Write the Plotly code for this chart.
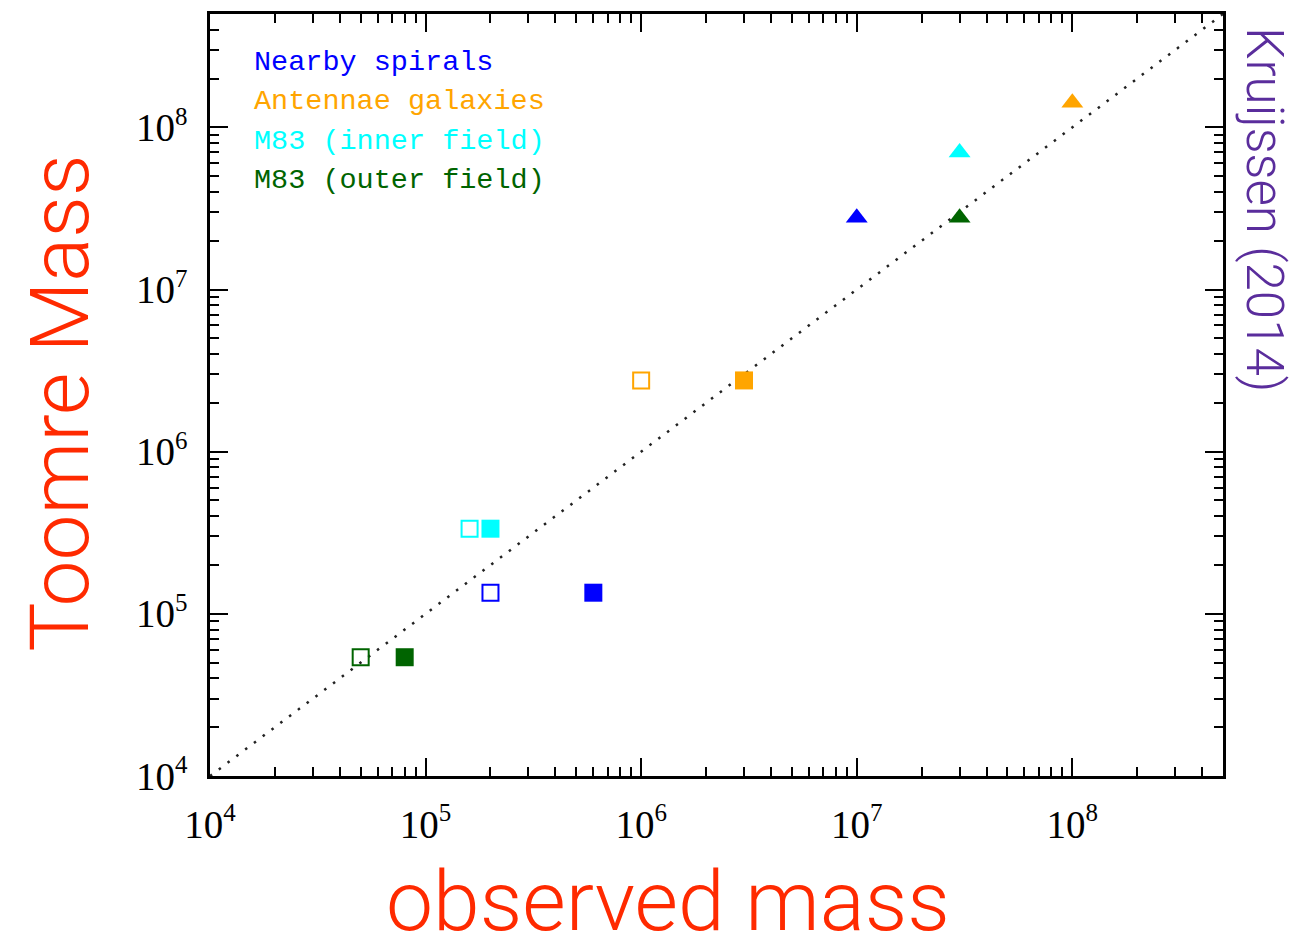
import plotly.graph_objects as go

# Cluster-complex samples
groups = ["Nearby spirals", "Antennae galaxies", "M83 (inner field)", "M83 (outer field)"]
colors = ["#0000FF", "#FFA500", "#00FFFF", "#006400"]

# Squares: Toomre mass vs observed mass (two estimates: open = low, filled = high)
obs_open = [2.0e5, 1.0e6, 1.6e5, 5.0e4]
obs_filled = [6.0e5, 3.0e6, 2.0e5, 8.0e4]
toomre_sq = [1.35e5, 2.75e6, 3.35e5, 5.4e4]

# Triangles: most massive complexes
obs_tri = [1.0e7, 1.0e8, 3.0e7, 3.0e7]
toomre_tri = [2.77e7, 1.42e8, 7.0e7, 2.77e7]

# One-to-one relation
one_to_one = [1.0e4, 5.0e8]

tick_vals = [1e4, 1e5, 1e6, 1e7, 1e8]
tick_exps = ["4", "5", "6", "7", "8"]
tick_text = ["10<sup><span style='font-size:25px'>%s</span></sup>" % e for e in tick_exps]

fig = go.Figure()

fig.add_trace(go.Scatter(
    x=one_to_one, y=one_to_one, mode="lines",
    line=dict(color="#222222", width=2.5, dash="2.5px,8.5px"),
    showlegend=False, hoverinfo="skip",
))

for i, name in enumerate(groups):
    c = colors[i]
    fig.add_trace(go.Scatter(
        x=[obs_open[i]], y=[toomre_sq[i]], mode="markers", name=name,
        marker=dict(symbol="square-open", size=16, color=c, line=dict(color=c, width=2)),
        showlegend=False,
    ))
    fig.add_trace(go.Scatter(
        x=[obs_filled[i]], y=[toomre_sq[i]], mode="markers", name=name,
        marker=dict(symbol="square", size=18, color=c, line=dict(width=0)),
        showlegend=False,
    ))
    fig.add_trace(go.Scatter(
        x=[obs_tri[i]], y=[toomre_tri[i]], mode="markers", name=name,
        marker=dict(symbol="triangle-up", size=19, color=c, line=dict(width=0)),
        showlegend=False,
    ))

axis_common = dict(
    type="log",
    range=[4, 8.69897],
    tickvals=tick_vals,
    ticktext=tick_text,
    ticks="inside",
    ticklen=18,
    tickwidth=2,
    tickcolor="black",
    showline=True,
    linecolor="black",
    linewidth=2.5,
    mirror="allticks",
    showgrid=False,
    zeroline=False,
    tickfont=dict(family="Liberation Serif", size=39, color="black"),
    minor=dict(ticks="inside", ticklen=9, tickwidth=2, tickcolor="black",
               dtick="D1", showgrid=False),
)

fig.update_xaxes(**axis_common, ticklabelstandoff=12)
fig.update_yaxes(**axis_common, ticklabelstandoff=12)

# Legend as coloured text
legend_y = [60, 99, 139, 178]
plot_top, plot_bottom = 11, 776
for i, name in enumerate(groups):
    yp = (plot_bottom - legend_y[i]) / (plot_bottom - plot_top)
    fig.add_annotation(
        text=name, xref="paper", yref="paper", x=(252 - 210) / (1223 - 210), y=yp,
        xanchor="left", yanchor="middle", showarrow=False,
        font=dict(family="Liberation Mono", size=28.5, color=colors[i]),
    )

# Axis titles
fig.add_annotation(
    text="observed mass", xref="paper", yref="paper",
    x=(668 - 210) / (1223 - 210), y=(plot_bottom - 902) / (plot_bottom - plot_top),
    xanchor="center", yanchor="middle", showarrow=False,
    font=dict(family="Roboto", size=84, color="#FF2A00", weight=300),
)
fig.add_annotation(
    text="Toomre Mass", xref="paper", yref="paper",
    x=(60 - 210) / (1223 - 210), y=(plot_bottom - 402) / (plot_bottom - plot_top),
    xanchor="center", yanchor="middle", showarrow=False, textangle=-90,
    font=dict(family="Roboto", size=82, color="#FF2A00", weight=300),
)
fig.add_annotation(
    text="Kruijssen (2014)", xref="paper", yref="paper",
    x=(1265 - 210) / (1223 - 210), y=(plot_bottom - 207) / (plot_bottom - plot_top),
    xanchor="center", yanchor="middle", showarrow=False, textangle=90,
    font=dict(family="Roboto", size=51, color="#5A2D9C", weight=300),
)

fig.update_layout(
    width=1305, height=943,
    margin=dict(l=210, r=82, t=11, b=167),
    paper_bgcolor="white", plot_bgcolor="white",
    showlegend=False,
)

fig.write_html("out.html")
